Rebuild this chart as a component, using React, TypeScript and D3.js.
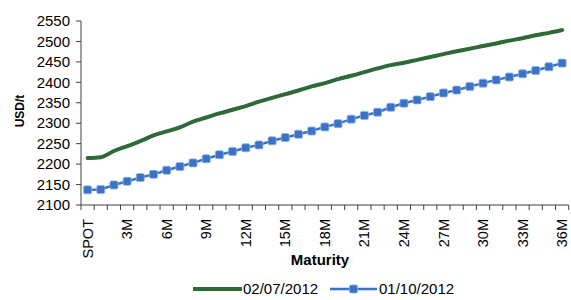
import React from "react";
import * as d3 from "d3";

const categories: string[] = ["SPOT", ...d3.range(1, 37).map((m) => `${m}M`)];

const series1Name = "02/07/2012";
const series1: number[] = [
  2215, 2217, 2232, 2244, 2256, 2270, 2280, 2290, 2304, 2314, 2324, 2333, 2342,
  2353, 2362, 2371, 2380, 2390, 2398, 2408, 2416, 2425, 2434, 2442, 2448, 2455,
  2462, 2469, 2476, 2482, 2489, 2495, 2502, 2508, 2515, 2521, 2528,
];

const series2Name = "01/10/2012";
const series2: number[] = [
  2137, 2138, 2149, 2158, 2167, 2175, 2185, 2194, 2203, 2213, 2223, 2231, 2240,
  2247, 2257, 2265, 2273, 2281, 2291, 2299, 2310, 2319, 2327, 2339, 2349, 2357,
  2365, 2374, 2381, 2390, 2398, 2406, 2413, 2421, 2429, 2438, 2447,
];

const yTicks: number[] = [2100, 2150, 2200, 2250, 2300, 2350, 2400, 2450, 2500, 2550];
const xLabelEvery = 3;

const W = 571;
const H = 300;
const left = 81;
const right = 568.7;
const top = 21;
const bottom = 205;

const GREEN = "#2d6a38";
const BLUE = "#3a72c6";
const AXIS = "#404040";
const FONT = "'Liberation Sans', Arial, sans-serif";

export default function App() {
  const x = d3.scaleBand<string>().domain(categories).range([left, right]).padding(0);
  const y = d3.scaleLinear().domain([2100, 2550]).range([bottom, top]);
  const cx = (c: string) => (x(c) as number) + x.bandwidth() / 2;

  const line = d3
    .line<number>()
    .x((_, i) => cx(categories[i]))
    .y((d) => y(d))
    .curve(d3.curveMonotoneX);
  const line2 = d3
    .line<number>()
    .x((_, i) => cx(categories[i]))
    .y((d) => y(d));

  const boundaries = [...categories.map((c) => x(c) as number), right];
  const ms = 8;

  return (
    <svg
      width={W}
      height={H}
      style={{ position: "absolute", left: 0, top: 0, background: "#fff" }}
      fontFamily={FONT}
    >
      {/* series */}
      <path d={line(series1) || ""} fill="none" stroke={GREEN} strokeWidth={4} strokeLinejoin="round" strokeLinecap="round" />
      <path d={line2(series2) || ""} fill="none" stroke={BLUE} strokeWidth={2.5} />
      {series2.map((v, i) => (
        <rect
          key={i}
          x={cx(categories[i]) - ms / 2}
          y={y(v) - ms / 2}
          width={ms}
          height={ms}
          rx={1.5}
          fill={BLUE}
          stroke="#8fb0e2"
          strokeWidth={0.8}
        />
      ))}

      {/* y axis */}
      <line x1={left} x2={left} y1={top} y2={bottom} stroke={AXIS} strokeWidth={1} />
      {yTicks.map((t) => (
        <g key={t}>
          <line x1={left - 5} x2={left} y1={y(t)} y2={y(t)} stroke={AXIS} strokeWidth={1} />
          <text x={left - 11} y={y(t)} dy="0.35em" textAnchor="end" fontSize={15} fill="#000">
            {t}
          </text>
        </g>
      ))}
      <text
        transform={`translate(20,${(top + bottom) / 2 - 2}) rotate(-90)`}
        textAnchor="middle"
        fontSize={12}
        fontWeight="bold"
        fill="#000"
        dy="0.35em"
      >
        USD/t
      </text>

      {/* x axis */}
      <line x1={left} x2={right} y1={bottom} y2={bottom} stroke={AXIS} strokeWidth={1} />
      {boundaries.map((b, i) => (
        <line key={i} x1={b} x2={b} y1={bottom} y2={bottom + 5} stroke={AXIS} strokeWidth={1} />
      ))}
      {categories.map((c, i) =>
        i % xLabelEvery === 0 ? (
          <text
            key={c}
            transform={`translate(${cx(c)},${bottom + 14}) rotate(-90)`}
            textAnchor="end"
            dy="0.35em"
            fontSize={14.5}
            fill="#000"
          >
            {c}
          </text>
        ) : null
      )}
      <text x={320} y={265} textAnchor="middle" fontSize={15} fontWeight="bold" fill="#000">
        Maturity
      </text>

      {/* legend */}
      <line x1={193} x2={242} y1={289} y2={289} stroke={GREEN} strokeWidth={4} />
      <text x={243} y={289} dy="0.35em" fontSize={15} fill="#000">
        {series1Name}
      </text>
      <line x1={330} x2={377} y1={289} y2={289} stroke={BLUE} strokeWidth={2.5} />
      <rect x={353.5 - ms / 2} y={289 - ms / 2} width={ms} height={ms} rx={1.5} fill={BLUE} stroke="#8fb0e2" strokeWidth={0.8} />
      <text x={379} y={289} dy="0.35em" fontSize={15} fill="#000">
        {series2Name}
      </text>
    </svg>
  );
}
